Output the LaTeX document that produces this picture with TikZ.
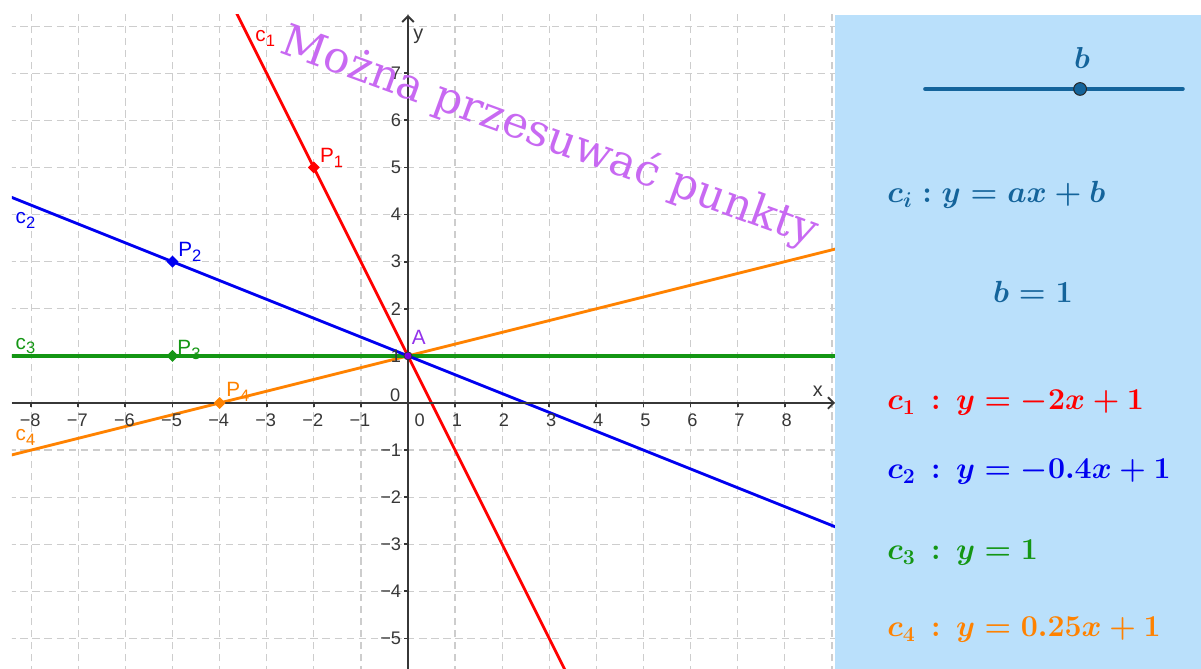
\RequirePackage{fix-cm}
\documentclass[tikz,border=0pt]{standalone}
\usepackage{fontspec}
\setsansfont{Liberation Sans}
\newfontfamily\plfont{DejaVu Serif}
\usepackage{amsmath}
\usetikzlibrary{calc,arrows.meta,shapes.geometric}
\definecolor{ggred}{RGB}{255,0,0}
\definecolor{ggblue}{RGB}{0,0,240}
\definecolor{gggreen}{RGB}{20,150,20}
\definecolor{ggorange}{RGB}{255,130,0}
\definecolor{ggviolet}{RGB}{120,0,230}
\definecolor{notecolor}{RGB}{200,105,242}
\definecolor{panelcolor}{RGB}{186,224,251}
\definecolor{slidercolor}{RGB}{20,100,155}
\definecolor{gridcolor}{RGB}{205,205,205}
\definecolor{axiscolor}{RGB}{55,55,55}
% lowered index in the label font
\newcommand{\lowidx}[1]{\raisebox{-0.45ex}{\fontsize{10}{12}\selectfont #1}}

\begin{document}
\begin{tikzpicture}[x=1cm,y=1cm,
    gridline/.style={gridcolor, line width=0.8pt, dash pattern=on 4.5pt off 2.8pt},
    axisline/.style={axiscolor, line width=1.1pt},
    graphline/.style={line width=1.7pt},
    ticklabel/.style={font=\sffamily\fontsize{11}{13}\selectfont, text=axiscolor, inner sep=0pt},
    ptlabel/.style={font=\sffamily\fontsize{12.5}{14}\selectfont, inner sep=0pt},
    ptmark/.style={diamond, inner sep=0pt, minimum size=0.26cm},
    formula/.style={font=\fontsize{18.3}{22}\selectfont\boldmath, inner sep=0pt, anchor=west}]
    \useasboundingbox (-8.662,-5.648) rectangle (16.837,8.556);

    % Panel on the right
    \fill[panelcolor] (9.066,-5.648) rectangle (16.837,8.238);

    % Points
    \coordinate (A) at (0,1);
    \coordinate (P1) at (-2,5);
    \coordinate (P2) at (-5,3);
    \coordinate (P3) at (-5,1);
    \coordinate (P4) at (-4,0);

    % Grid and lines
    \begin{scope}
        \clip (-8.408,-5.648) rectangle (9.066,8.238);
        \draw[gridline] (-9,-6) grid (10,9);
        \draw[graphline, ggorange] ($(A)!-10!(P4)$) -- ($(A)!10!(P4)$);
        \draw[graphline, gggreen, line width=2pt] ($(A)!-10!(P3)$) -- ($(A)!10!(P3)$);
        \draw[graphline, ggblue] ($(A)!-10!(P2)$) -- ($(A)!10!(P2)$);
        \draw[graphline, ggred] ($(A)!-10!(P1)$) -- ($(A)!10!(P1)$);
    \end{scope}

    % Axes
    \coordinate (xmin) at (-8.408,0);
    \coordinate (xmax) at (9.066,0);
    \coordinate (ymin) at (0,-5.648);
    \coordinate (ymax) at (0,8.238);
    \draw[axisline, -{Straight Barb[length=3.5pt,width=7pt]}] (xmin) -- (xmax);
    \draw[axisline, -{Straight Barb[length=3.5pt,width=7pt]}] (ymin) -- (ymax);
    \node[ticklabel, font=\sffamily\fontsize{12}{14}\selectfont] (xname) at (8.70,0.24) {x};
    \node[ticklabel, font=\sffamily\fontsize{12}{14}\selectfont] (yname) at (0.22,7.78) {y};

    % Ticks
    \foreach \k in {1,...,8} {
        \draw[axisline] (\k,0) -- (\k,-0.09);
        \draw[axisline] (-\k,0) -- (-\k,-0.09);
        \node[ticklabel] (xp\k) at (\k+0.04,-0.37) {\k};
        \node[ticklabel] (xm\k) at (-\k-0.02,-0.37) {−\k};
    }
    \foreach \k in {1,...,7}
        \draw[axisline] (0,\k) -- (-0.09,\k);
    \foreach \k in {1,...,5}
        \draw[axisline] (0,-\k) -- (-0.09,-\k);
    \foreach \k in {1,...,7}
        \node[ticklabel, anchor=east] (yp\k) at (-0.14,\k) {\k};
    \foreach \k in {1,...,5}
        \node[ticklabel, anchor=east] (ym\k) at (-0.14,-\k) {−\k};
    \node[ticklabel] (xzero) at (0.25,-0.37) {0};
    \node[ticklabel] (yzero) at (-0.27,0.17) {0};

    % Point marks and labels
    \node[ptmark, fill=ggred] (m1) at (P1) {};
    \node[ptmark, fill=ggblue] (m2) at (P2) {};
    \node[ptmark, fill=gggreen] (m3) at (P3) {};
    \node[ptmark, fill=ggorange] (m4) at (P4) {};
    \node[circle, inner sep=0pt, minimum size=0.17cm, fill=ggviolet, draw=black!80, line width=0.5pt] (mA) at (A) {};
    \node[ptlabel, text=ggred] (l1) at (-1.62,5.20) {P\lowidx{1}};
    \node[ptlabel, text=ggblue] (l2) at (-4.63,3.21) {P\lowidx{2}};
    \node[ptlabel, text=gggreen] (l3) at (-4.65,1.13) {P\lowidx{3}};
    \node[ptlabel, text=ggorange] (l4) at (-3.61,0.23) {P\lowidx{4}};
    \node[ptlabel, text=ggviolet!80] (lA) at (0.23,1.40) {A};

    % Line names
    \node[ptlabel, text=ggred] (n1) at (-3.03,7.74) {c\lowidx{1}};
    \node[ptlabel, text=ggblue] (n2) at (-8.12,3.87) {c\lowidx{2}};
    \node[ptlabel, text=gggreen] (n3) at (-8.12,1.21) {c\lowidx{3}};
    \node[ptlabel, text=ggorange] (n4) at (-8.12,-0.74) {c\lowidx{4}};

    % Note
    \node[font=\plfont\fontsize{26.5}{31}\selectfont, text=notecolor, rotate=-20] (note) at (3.0,5.64) {Można przesuwać punkty};

    % Slider
    \coordinate (s0) at (10.98,6.667);
    \coordinate (s1) at (16.45,6.667);
    \draw[slidercolor, line width=2.4pt, line cap=round] (s0) -- (s1);
    \node[circle, inner sep=0pt, minimum size=0.27cm, fill=slidercolor, draw=black!85, line width=0.6pt] (knob) at (14.27,6.667) {};
    \node[formula, anchor=south, text=slidercolor] (bname) at (14.31,7.1) {$b$};

    % Formulas
    \node[formula, text=slidercolor, font=\fontsize{18.5}{22}\selectfont\boldmath] (fi) at (10.17,4.42) {$c_i: y = ax + b$};
    \node[formula, anchor=center, text=slidercolor, font=\fontsize{18.5}{22}\selectfont\boldmath] (fb) at (13.27,2.36) {$b = 1$};
    \node[formula, text=ggred] (f1) at (10.17,0.0) {$c_1 \,:\, y = -2x + 1$};
    \node[formula, text=ggblue] (f2) at (10.17,-1.465) {$c_2 \,:\, y = -0.4x + 1$};
    \node[formula, text=gggreen] (f3) at (10.17,-3.185) {$c_3 \,:\, y = 1$};
    \node[formula, text=ggorange] (f4) at (10.17,-4.82) {$c_4 \,:\, y = 0.25x + 1$};
\end{tikzpicture}
\end{document}
